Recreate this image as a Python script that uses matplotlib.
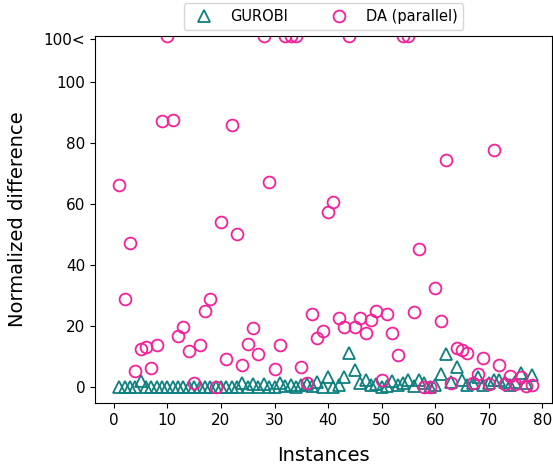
import numpy as np
import matplotlib
matplotlib.use("Agg")
import matplotlib.pyplot as plt

# values above 100 are drawn on the top edge
CAP = 115

instances = list(range(1, 79))

gurobi = [
    0, 0, 0, 0, 1.9, 0, 0, 0, 0, 0,
    0, 0, 0, 0, 0, 0, 0, 0, 0, 0,
    0, 0, 0, 1.2, 0, 1.0, 0, 0.8, 0, 0,
    1.2, 0.3, 0.5, 0, 0.5, 0.8, 0.3, 1.6, 0, 3.1,
    0, 0.5, 3.1, 11.0, 5.6, 1.4, 2.4, 0.5, 1.0, 0,
    0.3, 1.8, 0.5, 1.2, 2.2, 0.3, 2.2, 1.4, 0, 0.5,
    4.3, 10.8, 1.5, 6.5, 2.2, 0.5, 1.1, 3.2, 0.5, 1.1,
    2.2, 2.3, 1.5, 0.5, 1.5, 4.4, 1.1, 3.8,
]

da_parallel = [
    66.2, 28.7, 47.0, 5.3, 12.4, 12.9, 6.3, 13.7, 87.2, CAP,
    87.6, 16.7, 19.5, 11.8, 1.3, 13.7, 24.9, 28.7, 0, 53.9,
    9.2, 85.8, 50.0, 7.0, 13.9, 19.2, 10.8, CAP, 67.1, 5.8,
    13.8, CAP, CAP, CAP, 6.4, 1.4, 24.0, 16.0, 18.3, 57.2,
    60.7, 22.6, 19.6, CAP, 19.7, 22.6, 17.6, 21.8, 24.9, 2.2,
    24.0, 17.7, 10.6, CAP, CAP, 24.6, 45.1, 0, 0, 32.4,
    21.5, 74.4, 1.3, 12.8, 12.0, 11.1, 1.1, 4.3, 9.6, 0.8,
    77.7, 7.1, 0.8, 3.5, 0.8, 3.3, 0.2, 0.6,
]

ytick_vals = [0, 20, 40, 60, 80, 100, 114]
ytick_labels = ["0", "20", "40", "60", "80", "100", "100<"]

fig = plt.figure(figsize=(5.53, 4.67), dpi=100)
ax = fig.add_axes([0.172, 0.137, 0.826, 0.786])

ax.plot(instances, gurobi, linestyle="none", marker="^", markersize=8.5,
        markerfacecolor="none", markeredgecolor="#0e8080", markeredgewidth=1.3,
        label="GUROBI")
ax.plot(instances, da_parallel, linestyle="none", marker="o", markersize=8.5,
        markerfacecolor="none", markeredgecolor="#f5209a", markeredgewidth=1.3,
        label="DA (parallel)")

ax.set_xlim(-3.5, 81.8)
ax.set_ylim(-5.3, CAP)
ax.set_xticks(range(0, 81, 10))
ax.set_yticks(ytick_vals)
ax.set_yticklabels(ytick_labels)
ax.tick_params(labelsize=11)

ax.set_xlabel("Instances", fontsize=14, labelpad=13)
ax.set_ylabel("Normalized difference", fontsize=14, labelpad=12)

ax.legend(loc="lower center", bbox_to_anchor=(0.5, 1.0), ncol=2,
          fontsize=10.5, columnspacing=2.5, borderaxespad=0.4)

fig.savefig("out.png", dpi=100)
